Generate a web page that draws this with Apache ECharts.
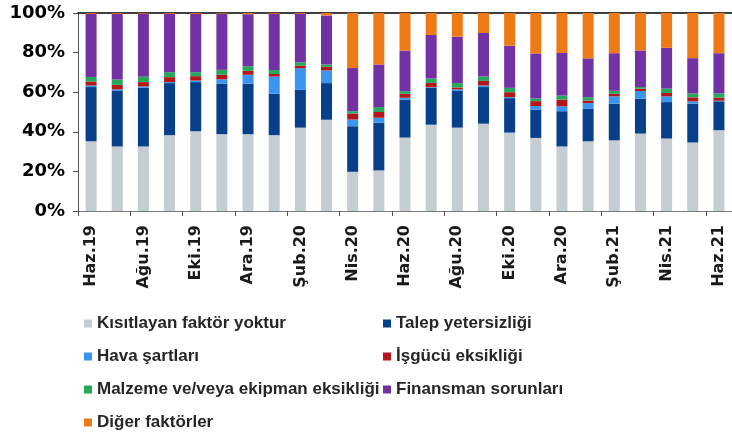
<!DOCTYPE html>
<html>
<head>
<meta charset="utf-8">
<script src="https://cdn.jsdelivr.net/npm/echarts@6/dist/echarts.min.js"></script>
<style>html,body{margin:0;padding:0;background:#fff}#c{width:732px;height:435px}</style>
</head>
<body>
<div id="c"></div>
<script>
var categories = ['Haz.19','Tem.19','Ağu.19','Eyl.19','Eki.19','Kas.19','Ara.19','Oca.20','Şub.20','Mar.20','Nis.20','May.20','Haz.20','Tem.20','Ağu.20','Eyl.20','Eki.20','Kas.20','Ara.20','Oca.21','Şub.21','Mar.21','Nis.21','May.21','Haz.21'];
var seriesNames = ['Kısıtlayan faktör yoktur','Talep yetersizliği','Hava şartları','İşgücü eksikliği','Malzeme ve/veya ekipman eksikliği','Finansman sorunları','Diğer faktörler'];
var yokValues = [35.2,32.6,32.6,38.3,40.3,38.8,38.8,38.3,42.1,46.1,19.8,20.5,37.1,43.6,42.1,44.1,39.6,36.9,32.6,35.2,35.7,39.1,36.6,34.6,40.8];
var talepValues = [27.4,28.0,29.6,26.3,24.8,25.5,25.5,20.9,19.1,18.5,23.0,24.1,19.1,18.6,18.5,18.5,17.4,14.3,17.8,16.4,18.5,17.6,18.4,19.6,14.6];
var havaValues = [0.8,0.8,0.7,0.5,0.8,2.2,4.5,8.7,10.9,6.4,3.4,2.5,1.0,0.3,0.8,0.8,0.5,1.8,2.5,2.9,3.7,3.9,2.9,1.2,0.3];
var isgucuValues = [2.0,2.3,2.2,2.5,2.2,2.3,2.0,1.3,1.3,1.8,3.0,2.9,2.0,2.2,1.0,2.3,2.5,2.5,3.4,1.3,1.3,1.2,1.7,2.0,1.5];
var malzemeValues = [2.3,2.7,2.7,2.5,2.0,2.5,2.3,2.0,1.7,1.2,1.2,2.5,1.3,2.2,2.2,2.2,2.2,1.3,2.0,1.7,1.5,0.8,2.2,2.0,2.2];
var finansmanValues = [31.9,33.2,31.9,29.5,29.5,28.4,26.3,28.4,24.5,24.7,21.8,21.5,20.5,22.0,23.5,22.0,21.3,22.8,21.5,19.6,19.0,18.5,20.6,17.8,20.3];
var digerValues = [0.4,0.4,0.3,0.4,0.4,0.3,0.6,0.4,0.4,1.3,27.8,26.0,19.0,11.1,11.9,10.1,16.5,20.4,20.2,22.9,20.3,18.9,17.6,22.8,20.3];
var yTicks = [0,20,40,60,80,100];

var colors = ['#C3CDD2','#073F8A','#3B94EE','#B5161B','#26A85A','#7332A3','#EE7A16'];
var allValues = [yokValues,talepValues,havaValues,isgucuValues,malzemeValues,finansmanValues,digerValues];

var chart = echarts.init(document.getElementById('c'), null, {renderer:'canvas'});
var series = seriesNames.map(function(n,i){
  return {name:n,type:'bar',stack:'all',data:allValues[i],barWidth:11,
    itemStyle:{color:colors[i]},emphasis:{disabled:true}};
});
var legendText = {fontFamily:'Liberation Sans, Arial', fontSize:17, fontWeight:'bold', color:'#262626', lineHeight:16};
chart.setOption({
  animation:false,
  color:colors,
  grid:{left:78,top:13,width:659,height:198,containLabel:false},
  legend:[
    {data:[seriesNames[0],seriesNames[2],seriesNames[4],seriesNames[6]],orient:'vertical',left:84,top:315,itemWidth:8,itemHeight:8,itemGap:16,icon:'rect',selectedMode:false,textStyle:legendText,padding:0},
    {data:[seriesNames[1],seriesNames[3],seriesNames[5]],orient:'vertical',left:383,top:315,itemWidth:8,itemHeight:8,itemGap:16,icon:'rect',selectedMode:false,textStyle:legendText,padding:0}
  ],
  xAxis:[
    {type:'category',data:categories,position:'bottom',
     axisLine:{lineStyle:{color:'#7a7a7a',width:1}},
     axisTick:{show:true,interval:1,length:5,lineStyle:{color:'#555'}},
     axisLabel:{interval:1,rotate:90,margin:14,fontFamily:'DejaVu Sans',fontWeight:'bold',fontSize:16,color:'#1a1a1a'}},
    {type:'category',data:categories,position:'top',
     axisLine:{show:true,lineStyle:{color:'#000',width:1.5}},
     axisTick:{show:false},axisLabel:{show:false}}
  ],
  yAxis:{type:'value',min:yTicks[0],max:yTicks[yTicks.length-1],interval:20,
     axisLine:{show:true,lineStyle:{color:'#555'}},
     axisTick:{show:true,length:5,lineStyle:{color:'#555'}},
     splitLine:{show:false},
     axisLabel:{formatter:'{value}%',margin:13,fontFamily:'DejaVu Sans',fontWeight:'bold',fontSize:18,color:'#000'}},
  series:series
});
</script>
</body>
</html>
